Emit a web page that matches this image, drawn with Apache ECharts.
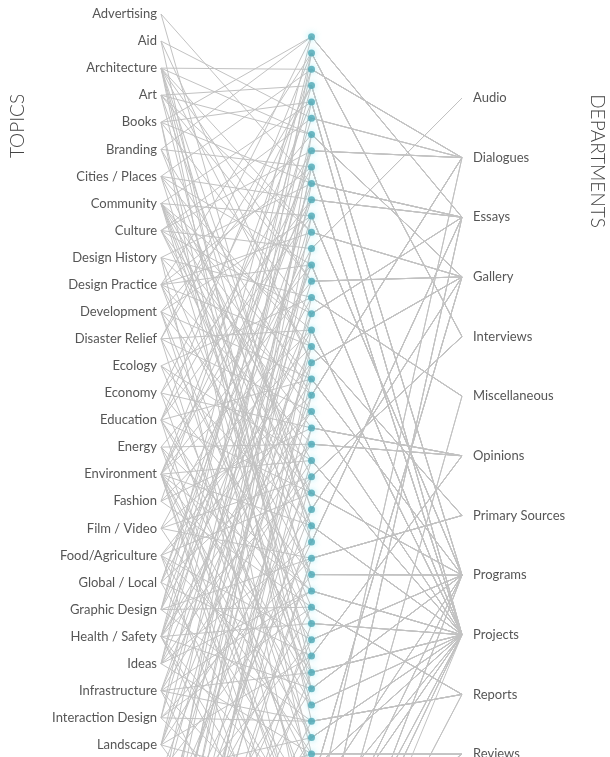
<!DOCTYPE html>
<html>
<head>
<meta charset="utf-8">
<script src="https://cdn.jsdelivr.net/npm/echarts@6/dist/echarts.min.js"></script>
<style>
html,body{margin:0;padding:0;background:#fff;}
#chart{width:610px;height:757px;}
</style>
</head>
<body>
<div id="chart"></div>
<script>
// ---- DATA ----
const topics = ["Advertising","Aid","Architecture","Art","Books","Branding","Cities / Places","Community","Culture","Design History","Design Practice","Development","Disaster Relief","Ecology","Economy","Education","Energy","Environment","Fashion","Film / Video","Food/Agriculture","Global / Local","Graphic Design","Health / Safety","Ideas","Infrastructure","Interaction Design","Landscape","Materials","Media","Mobility","Politics","Product Design","Public Space","Research","Social Innovation","Sustainability","Technology","Urbanism","Water"];
const departments = ["Audio","Dialogues","Essays","Gallery","Interviews","Miscellaneous","Opinions","Primary Sources","Programs","Projects","Reports","Reviews"];
// department of each article (middle dots, top to bottom)
const articleDept = [2,4,1,8,9,1,3,1,9,2, 2,8,3,0,9,3,5,2,9,7, 3,8,1,9,6,6,9,4,8,3, 9,2,7,8,9,10,9,8,6,9, 8,9,10,9,11,9,3,8,9,1, 9,11,8,2,9,5,9,8,10,9];
// articles linked to each topic
const topicArticles = [
  [9,31],[5,20,42],[2,6,12,15,20,29,34,46,39],[3,6,12,15,29,40],[0,4,9,17,44,51],[0,8,22,30],[2,10,14,27,38,19],
  [4,11,18,21,23,26,30,36,41,33],[5,7,13,17,24,31,28],[9,16,22,53,35],[1,8,14,19,25,33,40,12],[11,21,28,39,45,6],
  [3,18,23,36,48,0],[26,30,43,16],[10,24,33,47,3],[1,11,21,28,37,40,52,7],[14,34,41,50,25],
  [4,8,18,26,30,34,39,43,45,50,54,56,10,15],[19,24,35,2],[13,22,32,44,27],[20,28,37,41,47,57,23],[7,16,25,38,49,9],
  [0,5,12,32,35,42,18],[3,10,21,23,27,36,40,48,52,55,14],[1,7,17,25,31,44,34],[14,19,34,39,42,50,58,26],
  [2,32,35,42,51,11],[6,15,29,38,46,56,20],[33,43,54,22],[13,44,49,53,4],[27,37,57,17],[24,31,47,55,8],
  [8,19,35,54,1],[29,38,46,56,13],[9,16,40,53,58],[11,26,37,48,52,21],[30,43,45,50,57],[22,32,42,51,24],
  [6,20,27,39,46,32],[18,36,45,59]
];

// ---- LAYOUT ----
const HP = 1600;          // parallel height (taller than the view; the page crops it)
const HG = 757;           // grid height (labels & dots)
const LEFT = 161, RIGHT = 148, TOP = 0;
function range(first, step, len){ const min = -first/step; return {min: min, max: min + len/step}; }
const colT = [14, 27.07], colA = [36.7, 16.3], colD = [98, 59.64];
const pT = range(colT[0], colT[1], HP), pA = range(colA[0], colA[1], HP), pD = range(colD[0], colD[1], HP);
const gT = range(colT[0], colT[1], HG), gA = range(colA[0], colA[1], HG), gD = range(colD[0], colD[1], HG);

const lines = [];
topicArticles.forEach((arts, t) => arts.forEach(a => lines.push([t, a, articleDept[a]])));

const FONT = 'Lato';
const chart = echarts.init(document.getElementById('chart'), null, {renderer:'canvas'});
function pAxis(dim, r){
  return {dim:dim,type:'value',name:'',min:r.min,max:r.max,inverse:true,
    axisLine:{show:false},axisTick:{show:false},splitLine:{show:false},
    axisLabel:{show:false,formatter:function(){return '';},color:'rgba(0,0,0,0)'},
    nameTextStyle:{color:'rgba(0,0,0,0)'}};
}
chart.setOption({
  animation:false,
  backgroundColor:'#fff',
  parallel:{left:LEFT,right:RIGHT,top:TOP,height:HP,layout:'horizontal'},
  parallelAxis:[pAxis(0,pT),pAxis(1,pA),pAxis(2,pD)],
  grid:{left:LEFT,right:RIGHT,top:TOP,height:HG},
  xAxis:{type:'value',min:0,max:2,show:false},
  yAxis:[
    {type:'value',min:gT.min,max:gT.max,inverse:true,show:false},
    {type:'value',min:gA.min,max:gA.max,inverse:true,show:false},
    {type:'value',min:gD.min,max:gD.max,inverse:true,show:false}
  ],
  graphic:[
    {type:'text',x:18,y:126,rotation:Math.PI/2,style:{text:'TOPICS',font:'300 19px Lato',fill:'#444',textAlign:'center',textVerticalAlign:'middle'}},
    {type:'text',x:597,y:161,rotation:-Math.PI/2,style:{text:'DEPARTMENTS',font:'300 19px Lato',fill:'#444',textAlign:'center',textVerticalAlign:'middle'}}
  ],
  series:[
    {type:'parallel',parallelIndex:0,silent:true,z:1,
     lineStyle:{color:'#c2c2c2',width:1,opacity:1},
     emphasis:{disabled:true},
     data:lines},
    {type:'scatter',xAxisIndex:0,yAxisIndex:0,silent:true,z:3,symbolSize:0,clip:false,
     label:{show:true,position:'left',distance:4,formatter:'{b}',fontFamily:FONT,fontSize:13,color:'#2a2a2a'},
     data:topics.map((n,i)=>({name:n,value:[0,i]}))},
    {type:'scatter',xAxisIndex:0,yAxisIndex:1,silent:true,z:4,symbolSize:7,clip:false,
     itemStyle:{color:'#4da7b5',shadowBlur:6,shadowColor:'rgba(110,225,240,0.8)'},
     data:articleDept.map((d,i)=>[1,i])},
    {type:'scatter',xAxisIndex:0,yAxisIndex:2,silent:true,z:3,symbolSize:0,clip:false,
     label:{show:true,position:'right',distance:11,formatter:'{b}',fontFamily:FONT,fontSize:13,color:'#2a2a2a'},
     data:departments.map((n,i)=>({name:n,value:[2,i]}))}
  ]
});
</script>
</body>
</html>
